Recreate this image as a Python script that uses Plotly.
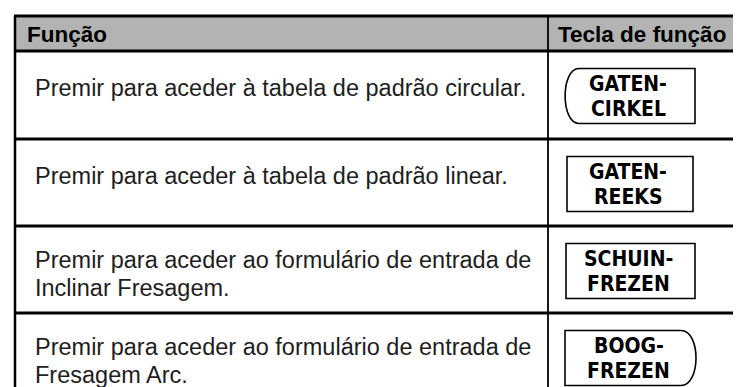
import plotly.graph_objects as go

# ---- table content ----
headers = ["Função", "Tecla de função"]
funcoes = [
    ["Premir para aceder à tabela de padrão circular."],
    ["Premir para aceder à tabela de padrão linear."],
    ["Premir para aceder ao formulário de entrada de", "Inclinar Fresagem."],
    ["Premir para aceder ao formulário de entrada de", "Fresagem Arc."],
]
teclas = [
    ["GATEN-", "CIRKEL"],
    ["GATEN-", "REEKS"],
    ["SCHUIN-", "FREZEN"],
    ["BOOG-", "FREZEN"],
]
formas = ["left_round", "rect", "rect", "right_round"]

# ---- layout constants (pixels) ----
W, H = 741, 387
X_LEFT, X_DIV, X_RIGHT = 7, 540, 741
Y_TOP, Y_HEAD = 8, 43
ROW_BOUNDS = [43, 131, 218, 305, 387]
KEY_X = [(557, 687), (559, 685), (558, 687), (557, 688)]
KEY_OFF, KEY_H = 17.5, 55
TEXT_X = 25
LINE_SP = 28

BODY_FONT = "Liberation Sans, Arial, Helvetica, sans-serif"
HEAD_FONT = "Liberation Sans, Arial, Helvetica, sans-serif"
KEY_FONT = "DejaVu Sans Condensed, DejaVu Sans, sans-serif"

fig = go.Figure()
shapes = []
annotations = []

# header fill
shapes.append(dict(type="rect", x0=X_LEFT, x1=X_RIGHT - 2, y0=Y_TOP, y1=Y_HEAD,
                   fillcolor="#b3b3b3", line=dict(width=0), layer="below"))
# horizontal rules
for y in [Y_TOP, Y_HEAD] + ROW_BOUNDS[1:-1]:
    shapes.append(dict(type="line", x0=X_LEFT - 1, x1=X_RIGHT, y0=y, y1=y,
                       line=dict(color="black", width=3)))
# vertical rules
shapes.append(dict(type="line", x0=X_LEFT, x1=X_LEFT, y0=Y_TOP, y1=H,
                   line=dict(color="black", width=2.5)))
shapes.append(dict(type="line", x0=X_DIV, x1=X_DIV, y0=Y_TOP, y1=H,
                   line=dict(color="black", width=1.8)))

# header text
head_y = (Y_TOP + Y_HEAD) / 2 + 1
annotations.append(dict(x=17, y=head_y, text="<b>" + headers[0] + "</b>",
                        xanchor="left", yanchor="middle", showarrow=False,
                        font=dict(family=HEAD_FONT, size=22.5, color="black")))
annotations.append(dict(x=X_DIV + 8, y=head_y, text="<b>" + headers[1] + "</b>",
                        xanchor="left", yanchor="middle", showarrow=False,
                        font=dict(family=HEAD_FONT, size=22.5, color="black")))

for i, (linhas, tecla, forma) in enumerate(zip(funcoes, teclas, formas)):
    r0, r1 = ROW_BOUNDS[i], ROW_BOUNDS[i + 1]
    # description text
    if len(linhas) == 1:
        ys = [r0 + 37]
    else:
        ys = [r0 + 34, r0 + 34 + LINE_SP]
    for t, yy in zip(linhas, ys):
        annotations.append(dict(x=TEXT_X, y=yy, text=t, xanchor="left", yanchor="middle",
                                showarrow=False,
                                font=dict(family=BODY_FONT, size=23.5, color="#1e1e1e")))
    # key box
    kx0, kx1 = KEY_X[i]
    ky0, ky1 = r0 + KEY_OFF, r0 + KEY_OFF + KEY_H
    if forma == "rect":
        path = f"M {kx0},{ky0} L {kx1},{ky0} L {kx1},{ky1} L {kx0},{ky1} Z"
    elif forma == "left_round":
        a = kx0 + 14
        c = kx0 - 4.5
        path = (f"M {a},{ky0} L {kx1},{ky0} L {kx1},{ky1} L {a},{ky1} "
                f"C {c},{ky1} {c},{ky0} {a},{ky0} Z")
    else:
        a = kx1 - 15
        c = kx1 + 5
        path = (f"M {kx0},{ky0} L {a},{ky0} C {c},{ky0} {c},{ky1} {a},{ky1} "
                f"L {kx0},{ky1} Z")
    shapes.append(dict(type="path", path=path, fillcolor="white",
                       line=dict(color="black", width=1.6)))
    kxm = (kx0 + kx1) / 2
    for j, t in enumerate(tecla):
        annotations.append(dict(x=kxm - 2, y=ky0 + 15.5 + 25 * j,
                                text="<b>" + t + "</b>", xanchor="center", yanchor="middle",
                                showarrow=False,
                                font=dict(family=KEY_FONT, size=21, color="black")))

fig.update_layout(
    width=W, height=H,
    margin=dict(l=0, r=0, t=0, b=0),
    paper_bgcolor="white", plot_bgcolor="white",
    xaxis=dict(range=[0, W], visible=False, fixedrange=True),
    yaxis=dict(range=[H, 0], visible=False, fixedrange=True),
    shapes=shapes, annotations=annotations, showlegend=False,
)
fig.write_html("out.html")
